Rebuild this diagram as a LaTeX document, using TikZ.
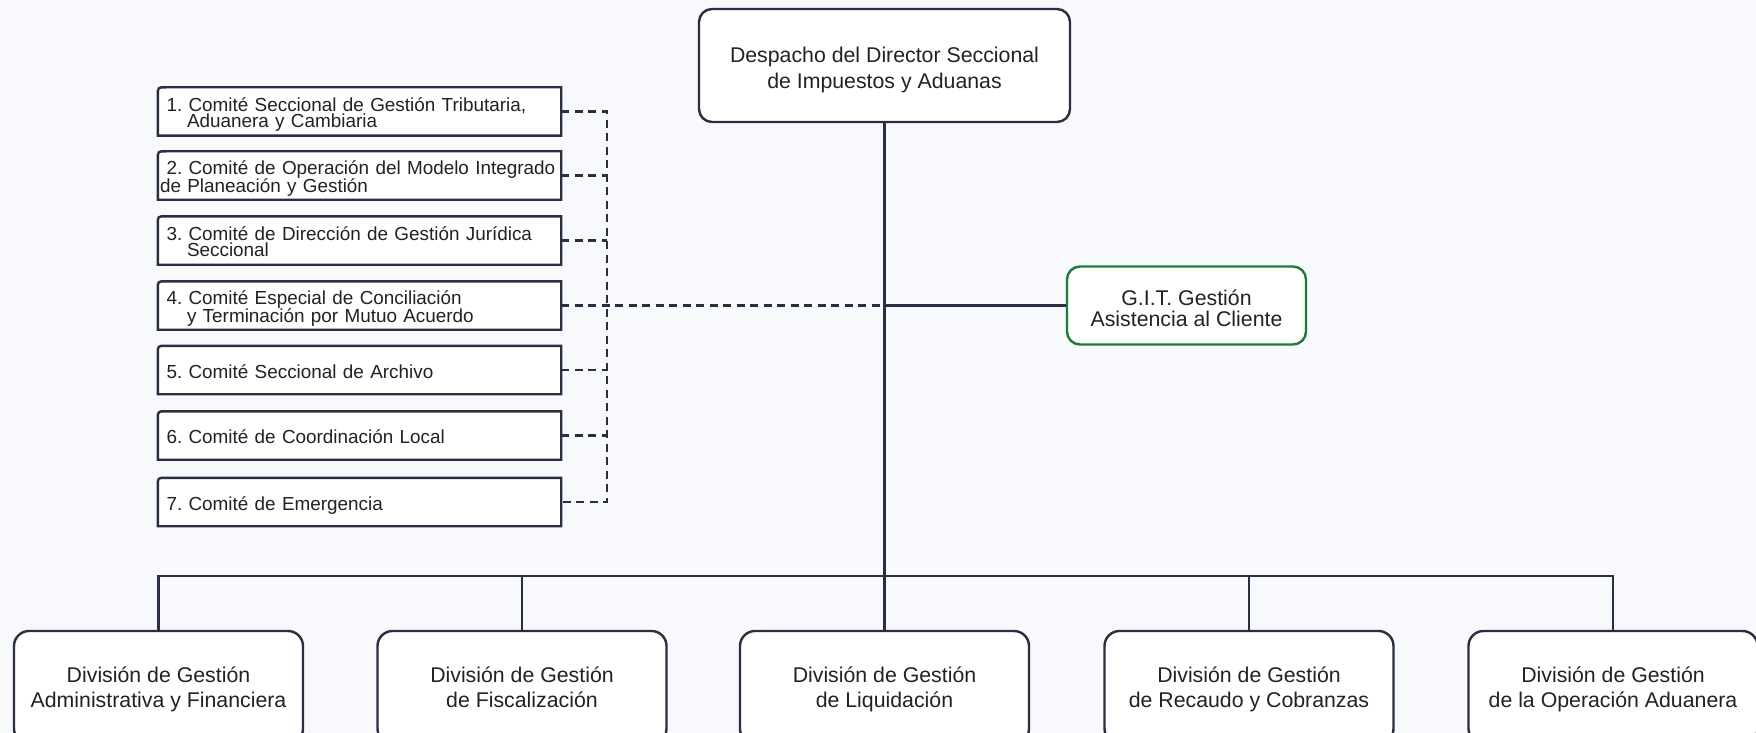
\documentclass[tikz,border=0pt]{standalone}
\usepackage{fontspec}
\setmainfont{Liberation Sans}
\usetikzlibrary{backgrounds}
\lineskiplimit=-100pt
\frenchspacing
\definecolor{ln}{HTML}{2B2D42}
\definecolor{gitg}{HTML}{1F7A3A}
\definecolor{bgc}{HTML}{F7F9FC}
\definecolor{tx}{HTML}{222222}
\newcommand\hiC{\rule{0pt}{20pt}}
\newcommand\loC{\rule[-3.5pt]{0pt}{0pt}}
\newcommand\hiD{\rule{0pt}{20pt}}
\newcommand\loD{\rule[-5pt]{0pt}{0pt}}
\newcommand\hiT{\rule{0pt}{25pt}}
\newcommand\loT{\rule[-5pt]{0pt}{0pt}}
\newcommand\hiG{\rule{0pt}{21pt}}
\begin{document}
\begin{tikzpicture}[x=1pt,y=-1pt,
  bigbox/.style={draw=ln, line width=2.4pt, fill=white, rounded corners=13pt,
    align=center, text=tx, inner sep=0pt},
  divbox/.style={bigbox, rounded corners=15pt, minimum width=289pt, minimum height=112.6pt,
    font=\fontsize{21.3}{24.5}\selectfont},
  cbox/.style={text width=386pt, inner xsep=8.5pt, inner ysep=0pt, minimum height=48pt,
    align=left, text=tx, font=\fontsize{18.9}{16.3}\selectfont\frenchspacing},
  conn/.style={draw=ln, line width=2.4pt},
  dashconn/.style={draw=ln, line width=2.4pt, dash pattern=on 8pt off 5.5pt}]
\useasboundingbox (0,0) rectangle (1756,733);

\node[bigbox, minimum width=371pt, minimum height=113pt, font=\fontsize{21.3}{26.5}\selectfont]
  (top) at (884.5,65.5) {\hiT Despacho del Director Seccional\\de Impuestos y Aduanas\loT};
\node[bigbox, draw=gitg, minimum width=239pt, minimum height=78pt, font=\fontsize{21.3}{21}\selectfont]
  (git) at (1186.5,305.5) {\hiG G.I.T. Gestión\\Asistencia al Cliente};

\node[divbox] (d1) at (158.5,687.3) {\hiD División de Gestión\\Administrativa y Financiera\loD};
\node[divbox] (d2) at (522,687.3) {\hiD División de Gestión\\de Fiscalización\loD};
\node[divbox] (d3) at (884.5,687.3) {\hiD División de Gestión\\de Liquidación\loD};
\node[divbox] (d4) at (1249,687.3) {\hiD División de Gestión\\de Recaudo y Cobranzas\loD};
\node[divbox] (d5) at (1613,687.3) {\hiD División de Gestión\\de la Operación Aduanera\loD};

\node[cbox] (c1) at (359.5,111.5) {\hiC\mbox{1. Comité Seccional de Gestión Tributaria,}\\\hspace*{20.5pt}Aduanera y Cambiaria\loC};
\node[cbox] (c2) at (359.5,175.5) {\hiC\mbox{2. Comité de Operación del Modelo Integrado}\\\hspace*{-6.5pt}de Planeación y Gestión\loC};
\node[cbox] (c3) at (359.5,240.5) {\hiC\mbox{3. Comité de Dirección de Gestión Jurídica}\\\hspace*{20.5pt}Seccional\loC};
\node[cbox] (c4) at (359.5,305.5) {\hiC\mbox{4. Comité Especial de Conciliación}\\\hspace*{20.5pt}y Terminación por Mutuo Acuerdo\loC};
\node[cbox] (c5) at (359.5,370) {\hiC 5. Comité Seccional de Archivo\loC};
\node[cbox] (c6) at (359.5,435.5) {\hiC 6. Comité de Coordinación Local\loC};
\node[cbox] (c7) at (359.5,502) {\hiC 7. Comité de Emergencia\loC};

\begin{pgfonlayer}{background}
  \fill[bgc] (0,0) rectangle (1756,733);
  \foreach \n in {c1,c2,c3,c4,c5,c6,c7}
    \path[draw=ln, line width=2.4pt, fill=white]
      (\n.south west) -- ([yshift=-8pt]\n.north west)
      .. controls (\n.north west) .. ([xshift=8pt]\n.north west)
      -- (\n.north east) -- (\n.south east) -- cycle;
\end{pgfonlayer}

\coordinate (bus) at (884.5,576);
\coordinate (dv) at (607,0);
\draw[conn] (top.south) -- (d3.north);
\draw[conn] (d1.north) |- (bus) -| (d5.north);
\draw[conn] (d2.north) -- (d2.north |- bus);
\draw[conn] (d4.north) -- (d4.north |- bus);
\draw[conn] (git.west) -- (git.west -| top.south);
\draw[dashconn] (c4.east) -- (c4.east -| top.south);
\draw[dashconn] (c1.east) -- (c1.east -| dv) -- (c7.east -| dv) -- (c7.east);
\foreach \n in {c2,c3,c5,c6}
  \draw[dashconn] (\n.east) -- (\n.east -| dv);
\end{tikzpicture}
\end{document}
